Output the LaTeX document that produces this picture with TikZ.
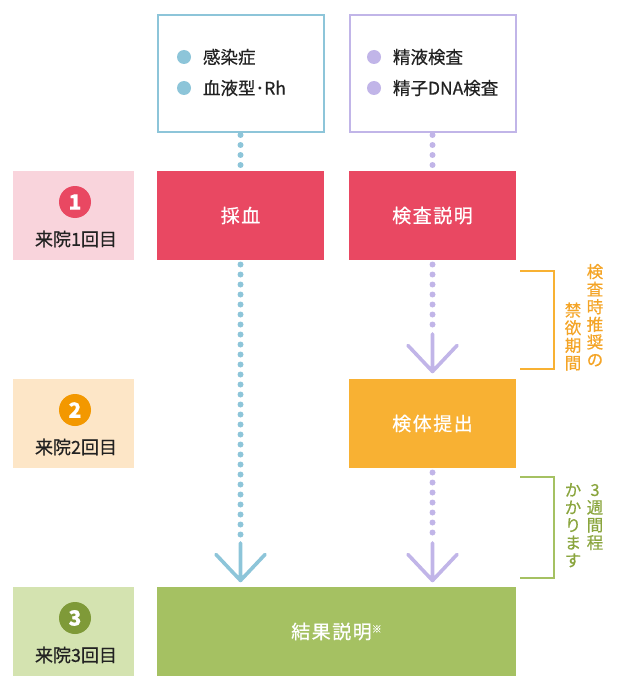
\documentclass[tikz,border=0pt]{standalone}
\usepackage{fontspec}
\setmainfont{Noto Sans CJK JP}[FakeBold=0.5]
\newfontfamily\spfont{Noto Sans CJK JP}[LetterSpace=8,FakeBold=0.6]
\usetikzlibrary{calc}
\definecolor{cblue}{HTML}{8DC5D9}
\definecolor{clav}{HTML}{C1B5E8}
\definecolor{cred}{HTML}{E94862}
\definecolor{cpink}{HTML}{F9D4DC}
\definecolor{corg}{HTML}{F8B133}
\definecolor{corgdark}{HTML}{F39800}
\definecolor{corglight}{HTML}{FDE6C7}
\definecolor{corgtext}{HTML}{F4A426}
\definecolor{cgreen}{HTML}{A5C162}
\definecolor{cgreendark}{HTML}{7F9A38}
\definecolor{cgreenlight}{HTML}{D4E3B0}
\definecolor{cgreentext}{HTML}{8AA53E}
\definecolor{ctext}{HTML}{222222}
\begin{document}
\begin{tikzpicture}[x=1pt,y=-1pt,
  every node/.style={outer sep=0pt, inner sep=0pt},
  topbox/.style={draw, line width=2pt, fill=white, minimum width=166pt, minimum height=116pt},
  stepbox/.style={minimum width=167pt, minimum height=89pt, text=white, font=\spfont\fontsize{19}{22}\selectfont},
  visitbox/.style={minimum width=121pt, minimum height=89pt},
  numcircle/.style={circle, minimum size=32pt, text=white, font=\bfseries\fontsize{21}{22}\selectfont},
  visittext/.style={text=ctext, font=\fontsize{18}{20}\selectfont},
  bulletdot/.style={circle, minimum size=14pt},
  itemtext/.style={anchor=west, text=ctext, font=\fontsize{17.5}{18}\selectfont},
  dotline/.style={line width=6pt, line cap=round, dash pattern=on 0pt off 10pt},
  arrline/.style={line width=3.6pt, line cap=round, line join=round},
  bracket/.style={line width=2pt},
  vtext/.style={align=center, anchor=north, font=\fontsize{16.5}{17.6}\selectfont}
]
\useasboundingbox (0,0) rectangle (620,690);

% top boxes
\node[topbox, draw=cblue] (blood) at (240.5,73.5) {};
\node[topbox, draw=clav] (semen) at (432.5,73.5) {};
\node[bulletdot, fill=cblue] (bb1) at (184,57) {};
\node[bulletdot, fill=cblue] (bb2) at (184,88) {};
\node[itemtext] (bt1) at (203,57) {感染症};
\node[itemtext] (bt2) at (203,88) {血液型･Rh};
\node[bulletdot, fill=clav] (sb1) at (374,57) {};
\node[bulletdot, fill=clav] (sb2) at (374,88) {};
\node[itemtext] (st1) at (393,57) {精液検査};
\node[itemtext] (st2) at (393,88) {精子DNA検査};

% visit labels
\node[visitbox, fill=cpink] (v1) at (73.5,215.5) {};
\node[visitbox, fill=corglight] (v2) at (73.5,423.5) {};
\node[visitbox, fill=cgreenlight] (v3) at (73.5,631.5) {};
\node[numcircle, fill=cred] (n1) at (75,202) {1};
\node[numcircle, fill=corgdark] (n2) at (75,410) {2};
\node[numcircle, fill=cgreendark] (n3) at (75,618) {3};
\node[visittext] (l1) at (76,239) {来院1回目};
\node[visittext] (l2) at (76,447) {来院2回目};
\node[visittext] (l3) at (76,655) {来院3回目};

% step boxes
\node[stepbox, fill=cred] (saiketsu) at (240.5,215.5) {採血};
\node[stepbox, fill=cred] (setsumei) at (432.5,215.5) {検査説明};
\node[stepbox, fill=corg] (teishutsu) at (432.5,423.5) {検体提出};
\node[stepbox, fill=cgreen, minimum width=359pt] (kekka) at (336.5,631.5) {結果説明{\fontsize{10}{10}\selectfont\raisebox{6pt}{※}}};

% connectors
\draw[dotline, draw=cblue] ($(blood.south)+(0,3.5)$) -- ($(saiketsu.north)+(0,-5.5)$);
\draw[dotline, draw=clav] ($(semen.south)+(0,3.5)$) -- ($(setsumei.north)+(0,-5.5)$);

\coordinate (t1) at ($(saiketsu.south |- kekka.north)+(0,-6.5)$);
\draw[dotline, draw=cblue] ($(saiketsu.south)+(0,4.5)$) -- ($(t1)+(0,-45.5)$);
\draw[arrline, draw=cblue] ($(t1)+(0,-37.5)$) -- (t1) ($(t1)+(-24.5,-26)$) -- (t1) -- ($(t1)+(24.5,-26)$);

\coordinate (t2) at ($(setsumei.south |- teishutsu.north)+(0,-7.5)$);
\draw[dotline, draw=clav] ($(setsumei.south)+(0,4.5)$) -- ($(t2)+(0,-45.5)$);
\draw[arrline, draw=clav] ($(t2)+(0,-37.5)$) -- (t2) ($(t2)+(-24.5,-26)$) -- (t2) -- ($(t2)+(24.5,-26)$);

\coordinate (t3) at ($(teishutsu.south |- kekka.north)+(0,-6.5)$);
\draw[dotline, draw=clav] ($(teishutsu.south)+(0,4.5)$) -- ($(t3)+(0,-45.5)$);
\draw[arrline, draw=clav] ($(t3)+(0,-37.5)$) -- (t3) ($(t3)+(-24.5,-26)$) -- (t3) -- ($(t3)+(24.5,-26)$);

% brackets
\draw[bracket, draw=corg] (520,271) -- (554,271) -- (554,369) -- (520,369);
\draw[bracket, draw=cgreen] (520,477) -- (554,477) -- (554,578) -- (520,578);

% vertical texts
\node[vtext, text=corgtext] (o1) at (595,264) {検\\査\\時\\推\\奨\\の};
\node[vtext, text=corgtext] (o2) at (573,302.5) {禁\\欲\\期\\間};
\node[vtext, text=cgreentext] (g1) at (595,484) {3\\週\\間\\程};
\node[vtext, text=cgreentext] (g2) at (573,483) {か\\か\\り\\ま\\す};
\end{tikzpicture}
\end{document}
